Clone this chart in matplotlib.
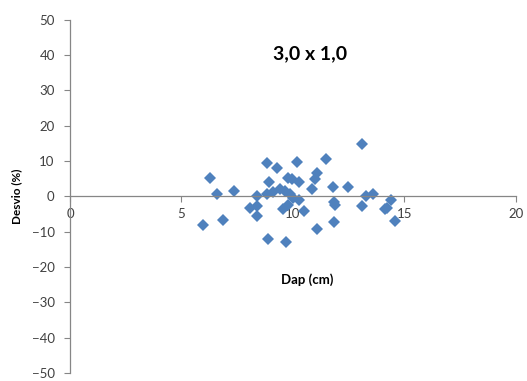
import matplotlib.pyplot as plt

# Dap (cm) and Desvio (%)
dap = [13.1, 6.28, 6.6, 7.37, 5.98, 6.88, 8.86, 9.3, 10.17, 11.5,
       8.94, 9.79, 9.94, 10.28, 11.06, 10.99, 10.84, 11.78, 12.48, 8.37,
       8.85, 9.12, 9.42, 9.64, 9.87, 10.0, 10.28, 8.07, 8.4, 8.4,
       9.57, 9.79, 10.5, 8.89, 9.69, 11.06, 11.85, 11.85, 11.88, 13.12,
       13.3, 13.6, 14.13, 14.2, 14.4, 14.6]
desvio = [14.7, 5.3, 0.6, 1.5, -8.2, -6.7, 9.5, 8.1, 9.7, 10.5,
          4.1, 5.3, 4.8, 4.1, 6.5, 4.8, 2.0, 2.7, 2.7, 0.1,
          0.6, 1.2, 2.0, 1.5, 0.6, -0.4, -0.9, -3.2, -2.6, -5.6,
          -3.7, -2.3, -4.2, -12.2, -12.9, -9.2, -7.3, -1.6, -2.3, -2.6,
          0.1, 0.6, -3.7, -3.2, -1.0, -7.0]

xticks = [0, 5, 10, 15, 20]
yticks = list(range(-50, 51, 10))

plt.rcParams['font.family'] = ['Lato', 'DejaVu Sans']

fig = plt.figure(figsize=(5.27, 3.81), dpi=100)
ax = fig.add_axes([0.1328, 0.021, 0.846, 0.927])

ax.plot(dap, desvio, 'D', color='#4f81bd', markersize=6.5, markeredgewidth=0)

ax.set_xlim(0, 20)
ax.set_ylim(-50, 50)
ax.set_xticks(xticks)
ax.set_yticks(yticks)

ax.spines['top'].set_visible(False)
ax.spines['right'].set_visible(False)
ax.spines['bottom'].set_position(('data', 0))
for s in ('left', 'bottom'):
    ax.spines[s].set_color('#868686')
    ax.spines[s].set_linewidth(0.9)

ax.tick_params(axis='y', direction='out', length=4, color='#868686',
               labelsize=9.5, labelcolor='#404040', pad=7)
ax.tick_params(axis='x', direction='out', length=4, color='#868686',
               labelsize=9.5, labelcolor='#404040', pad=4)

ax.text(10.76, 40.4, '3,0 x 1,0', fontsize=14, fontweight='bold',
        ha='center', va='center')
ax.text(10.65, -23.5, 'Dap (cm)', fontsize=9.5, fontweight='bold',
        ha='center', va='center')
ax.set_ylabel('Desvio (%)', fontsize=8.5, fontweight='bold', labelpad=7)

fig.savefig('out.png', dpi=100)
